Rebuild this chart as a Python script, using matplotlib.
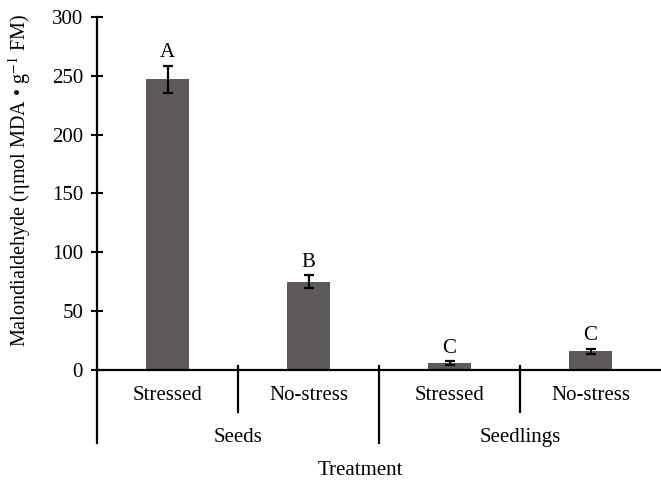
"""
Malondialdehyde content of stressed and non-stressed seeds and seedlings.
"""

import matplotlib

matplotlib.use("Agg")
import matplotlib.pyplot as plt
import matplotlib.transforms as mtransforms
import numpy as np

plt.rcParams["font.family"] = ["Liberation Serif", "DejaVu Serif"]
plt.rcParams["mathtext.fontset"] = "stix"

# Data
groups: list[str] = ["Seeds", "Seedlings"]
treatments: list[str] = ["Stressed", "No-stress", "Stressed", "No-stress"]
mda: list[float] = [247, 75, 6, 16]
mda_err: list[float] = [11.5, 5.5, 1.5, 2]
letters: list[str] = ["A", "B", "C", "C"]

bar_color = "#5e5959"
fs = 15

fig = plt.figure(figsize=(6.61, 4.86), dpi=100)
ax = fig.add_axes([97 / 661, 116 / 486, 564 / 661, 353 / 486])

x: np.ndarray = np.arange(len(mda)) + 0.5
ax.bar(x, mda, width=0.31, color=bar_color, zorder=2)
ax.errorbar(
    x, mda, yerr=mda_err, fmt="none", ecolor="black",
    elinewidth=1.6, capsize=3.5, capthick=1.6, zorder=3,
)

# Significance letters above the error bars
for xi, val, err, lab in zip(x, mda, mda_err, letters):
    ax.text(xi, val + err + 3, lab, ha="center", va="bottom", fontsize=fs)

ax.set_xlim(0, len(mda))
ax.set_ylim(0, 300)
ax.set_yticks(np.arange(0, 301, 50))
ax.set_xticks([])
ax.tick_params(axis="y", direction="inout", length=8, width=1.5, labelsize=fs, pad=6)

for side in ["top", "right"]:
    ax.spines[side].set_visible(False)
ax.spines["left"].set_linewidth(1.6)
ax.spines["bottom"].set_linewidth(1.6)
ax.spines["left"].set_bounds(0, 300)

# Multi-level category axis drawn below the plot
trans = mtransforms.blended_transform_factory(ax.transData, ax.transAxes)
ax.plot([0, 0], [0, -0.207], transform=trans, color="black", lw=1.6, clip_on=False)
for xb in [1, 3]:
    ax.plot([xb, xb], [0.012, -0.119], transform=trans, color="black", lw=1.6, clip_on=False)
ax.plot([2, 2], [0.012, -0.207], transform=trans, color="black", lw=1.6, clip_on=False)

for xi, lab in zip(x, treatments):
    ax.text(xi, -0.072, lab, transform=trans, ha="center", va="center", fontsize=fs)
for gi, lab in enumerate(groups):
    ax.text(2 * gi + 1, -0.19, lab, transform=trans, ha="center", va="center", fontsize=fs)

fig.text(360 / 661, 1 - 470 / 486, "Treatment", ha="center", va="center", fontsize=fs)
fig.text(
    20 / 661, 1 - 180 / 486,
    "Malondialdehyde (ηmol MDA • g$^{-1}$ FM)",
    rotation=90, ha="center", va="center", fontsize=14.5,
)

fig.savefig("out.png", dpi=100)
